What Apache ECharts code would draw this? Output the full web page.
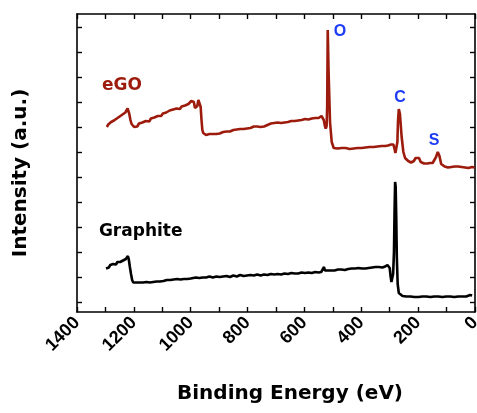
<!DOCTYPE html>
<html>
<head>
<meta charset="utf-8">
<script src="https://cdn.jsdelivr.net/npm/echarts@6/dist/echarts.min.js"></script>
<style>html,body{margin:0;padding:0;background:#fff}#c{width:477px;height:413px}</style>
</head>
<body>
<div id="c"></div>
<script>
// Binding energy (eV) and intensity (a.u., arbitrary units)
const egoBE = [1295,1290,1285,1280,1275,1270,1265,1260,1255,1250,1245,1240,1235,1230,1226,1222,1219,1216,1212,1208,1204,1199,1194,1188,1182,1176,1170,1164,1158,1152,1146,1140,1134,1128,1122,1116,1110,1104,1098,1092,1086,1080,1074,1068,1062,1056,1050,1044,1038,1032,1026,1020,1014,1008,1003,998,993,989,985,981,977,973,969,965,962,959,956,952,946,940,934,928,922,916,910,904,898,892,886,880,874,868,862,856,850,844,838,832,826,820,814,808,802,796,790,784,778,772,766,760,754,748,742,736,730,724,718,712,706,700,694,688,682,676,670,664,658,652,646,640,634,628,622,616,610,604,598,592,586,580,574,568,562,556,550,546,543,540,536,532,528,525,522,520,518,515,510,504,497,490,483,476,469,462,455,448,441,434,427,420,413,406,399,392,385,378,371,364,357,350,343,336,329,322,316,311,306,300,295,291,287,283,280,277,275,273,271,268,264,258,252,246,240,235,231,228,225,222,219,215,209,203,197,191,185,179,173,167,162,159,157,155,152,149,143,137,131,125,119,113,107,101,95,89,83,77,71,65,59,53,47,41,35,29,23,17,11,5,1];
const egoI = [185,187.5,187,190,189,191.5,190,193.5,193,195.5,194,197.5,197,199.5,201,203.5,203,198,192,188,186,185,187,185.5,188.5,187,189.5,189,191,191.5,190.5,193.5,193,194.5,194.5,196,196.5,196,198.5,198,199.5,199,201.5,200,202.5,202,203.5,203.5,203,205.5,205,206.5,206.5,208,208.5,211,213,210,204,202,206,212,213,205,192,182,179,177.5,177,176,178,176,178,177.5,178,178,178.5,178.5,180,178.5,180.5,180,180.5,180.5,182,180.5,182.5,181,183,182.5,183,183,183.5,184.5,184,184,185.5,184,185.5,186.5,185,187,185.5,187.5,187,187.5,188.5,187.5,189,188,189.5,190,189,190.5,189.5,191,190,191.5,191,192.5,191,192.5,191.5,193,192,193.5,193,194,192.5,194.5,193.5,194.5,194,195,194,195.5,194,196,196,192,186,183.5,186,205,282,240,190,170,164,163,163.5,163,164,162.5,164,164,163,164.5,163.5,164.5,164,165,164,165.5,164.5,165.5,165,166,165,166.5,165.5,166.5,166,167,166,167.5,166.5,168,167.5,168.5,167.5,163,159,158.5,160,170,190,203,198,175,160,154,152,151,150.5,150,149.5,149.5,150,151,154,156,154,150,148.5,148.5,147.5,148.5,148,149,148,148.5,148,149,149,155,160,156,148,146,145.5,146,144.5,145.5,145,144.5,145.5,145,145.5,144,145,145.5,144.5,145,144,145,145,144.5,144.5,144,145,144,144.5,144,145,144];

const grBE = [1298,1293,1288,1283,1278,1273,1268,1263,1258,1253,1248,1243,1238,1233,1228,1224,1221,1218,1214,1210,1206,1202,1197,1192,1186,1180,1174,1168,1162,1156,1150,1144,1138,1132,1126,1120,1114,1108,1102,1096,1090,1084,1078,1072,1066,1060,1054,1048,1042,1036,1030,1024,1018,1012,1006,1000,994,982,970,958,946,934,922,910,898,886,874,862,850,838,826,814,802,790,778,766,754,742,730,718,706,694,682,670,658,646,634,622,610,598,586,574,562,550,541,535,531,528,524,518,512,506,500,494,488,482,476,470,464,458,452,446,440,434,428,422,416,410,404,398,392,386,380,374,368,362,356,350,344,338,332,326,320,316,312,308,304,300,297,294,291,288,285,283,281,279,277,275,272,268,262,255,248,241,234,227,220,213,206,199,192,185,178,171,164,157,150,143,136,129,122,115,108,101,94,87,80,73,66,59,52,45,38,31,24,17,10,6,4];
const grI = [43.5,45.5,44.5,47,46.5,48,48.5,47.5,50,49.5,50,50.5,51.5,51,53,55,56,53,45,38,32,29.5,28.5,29.5,28,29.5,28.5,29.5,29,30,29.5,29.5,30.5,30,30.5,30.5,31,30.5,31.5,31,31,32,31.5,32,31.5,32.5,32,33,32.5,32.5,33.5,33,33.5,33,34,33.5,33.5,34.5,34,34.5,34.5,35.5,34.5,35.5,35,35.5,36,35,36.5,35.5,37,36,36.5,37,36.5,37.5,36.5,37.5,37,38,37.5,38,37.5,38.5,38,39,38.5,38.5,39.5,39,39.5,39,40,39.5,40,41,45,41.5,40.5,41.5,40.5,41.5,41,41.5,41,42.5,41,42.5,42,42,42.5,43,42.5,43.5,42.5,43.5,43,44,43,43.5,44,43.5,44,44,44.5,44.5,44,45,44.5,45,45.5,44.5,45.5,45.5,46,47,47,44,36,30,30,38,60,100,130,125,95,55,28,19,17,16,15.5,15.5,15,15.5,15.5,15,16,15,15.5,15.5,15,15.5,15.5,15,15.5,15.5,15,15.5,15.5,15,15.5,15.5,15,15.5,15.5,15,15.5,15.5,15,15.5,15.5,15.5,16,17,16.5];

const xTickStep = 100;
const yTicks = [10,35,60,85,110,135,160,185,210,235,260,285];

// text annotations placed in data coordinates
const noteText = ['eGO','Graphite','O','C','S'];
const noteBE = [1242,1176,475,264,144];
const noteI = [226,80.5,280,214.5,171.5];

const RED = '#9c1b0c', BLUE = '#1f3cf5';
const noteColor = [RED,'#000',BLUE,BLUE,BLUE];
const noteFont = [['DejaVu Sans',17],['DejaVu Sans',17],['Liberation Sans',16],['Liberation Sans',16],['Liberation Sans',16]];

const pairs = (a,b)=>a.map((v,i)=>[v,b[i]]);

const chart = echarts.init(document.getElementById('c'), null, {renderer:'canvas'});
const mkLine = ()=>({show:true,onZero:false,lineStyle:{color:'#000',width:1.6}});
const mkTick = ()=>({show:true,inside:true,length:5,lineStyle:{color:'#000',width:1.4}});
chart.setOption({
  animation:false,
  grid:{left:77,top:14,right:2,bottom:101,containLabel:false,outerBoundsMode:'none'},
  xAxis:[{
    type:'value',min:0,max:1400,interval:xTickStep,inverse:true,position:'bottom',
    axisLine:mkLine(),axisTick:mkTick(),splitLine:{show:false},
    axisLabel:{rotate:45,margin:8,color:'#000',fontFamily:'Liberation Sans',fontWeight:'bold',fontSize:18,
      showMinLabel:true,showMaxLabel:true,hideOverlap:false,
      formatter:v=>(v%200===0?String(v):'')},
    name:'Binding Energy (eV)',nameLocation:'middle',nameGap:72,
    nameTextStyle:{color:'#000',fontFamily:'DejaVu Sans',fontWeight:'bold',fontSize:20,padding:[0,0,0,28]}
  },{
    type:'value',min:0,max:1400,interval:xTickStep,inverse:true,position:'top',
    axisLine:mkLine(),axisTick:mkTick(),axisLabel:{show:false},splitLine:{show:false}
  }],
  yAxis:[{
    type:'value',min:0,max:298,position:'left',
    axisLine:mkLine(),
    axisTick:Object.assign(mkTick(),{customValues:yTicks}),axisLabel:{show:false},splitLine:{show:false},
    name:'Intensity (a.u.)',nameLocation:'middle',nameGap:46,
    nameTextStyle:{color:'#000',fontFamily:'DejaVu Sans',fontWeight:'bold',fontSize:20,padding:[0,20,0,0]}
  },{
    type:'value',min:0,max:298,position:'right',
    axisLine:mkLine(),
    axisTick:Object.assign(mkTick(),{customValues:yTicks}),axisLabel:{show:false},splitLine:{show:false}
  }],
  series:[{
    type:'line',name:'eGO',data:pairs(egoBE,egoI),showSymbol:false,symbol:'none',
    lineStyle:{color:RED,width:2.6},itemStyle:{color:RED},silent:true
  },{
    type:'line',name:'Graphite',data:pairs(grBE,grI),showSymbol:false,symbol:'none',
    lineStyle:{color:'#000',width:2.6},itemStyle:{color:'#000'},silent:true
  },{
    type:'scatter',symbolSize:0,silent:true,itemStyle:{opacity:1},
    data:noteText.map((t,i)=>({name:t,value:[noteBE[i],noteI[i]],
      label:{show:true,position:'inside',formatter:'{b}',color:noteColor[i],opacity:1,
        fontFamily:noteFont[i][0],fontWeight:'bold',fontSize:noteFont[i][1]}}))
  }]
});
</script>
</body>
</html>
